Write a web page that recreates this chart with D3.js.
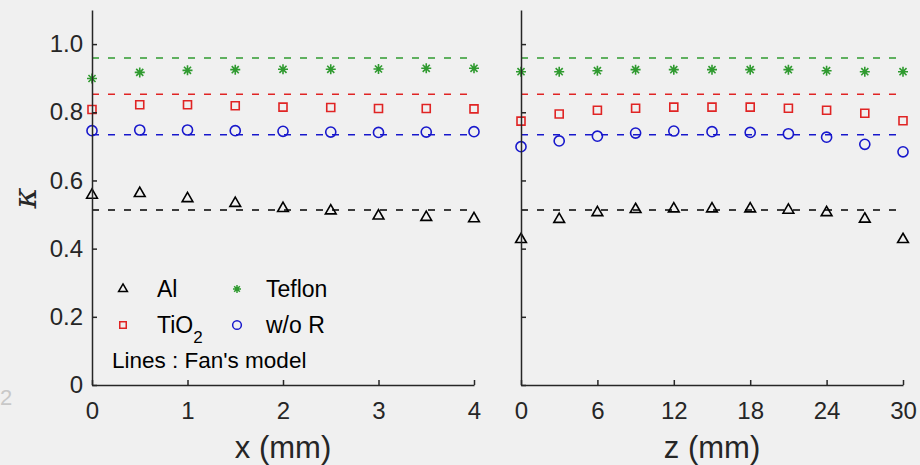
<!DOCTYPE html>
<html>
<head>
<meta charset="utf-8">
<script src="https://cdn.jsdelivr.net/npm/d3@7"></script>
<style>
  body { margin: 0; background: #f0f0f0; }
  text { font-family: "Liberation Sans", Arial, Helvetica, sans-serif; }
</style>
</head>
<body>
<script>
// positions (mm)
var xPos = [0, 0.5, 1, 1.5, 2, 2.5, 3, 3.5, 4];
var zPos = [0, 3, 6, 9, 12, 15, 18, 21, 24, 27, 30];

// kappa vs x
var alX     = [0.557, 0.562, 0.547, 0.533, 0.518, 0.511, 0.496, 0.492, 0.488];
var tio2X   = [0.808, 0.822, 0.822, 0.819, 0.815, 0.814, 0.811, 0.811, 0.810];
var teflonX = [0.899, 0.917, 0.923, 0.925, 0.926, 0.926, 0.927, 0.929, 0.929];
var worX    = [0.746, 0.748, 0.748, 0.746, 0.744, 0.742, 0.741, 0.742, 0.743];

// kappa vs z
var alZ     = [0.427, 0.486, 0.506, 0.515, 0.517, 0.517, 0.517, 0.513, 0.506, 0.487, 0.427];
var tio2Z   = [0.774, 0.795, 0.806, 0.812, 0.815, 0.815, 0.815, 0.812, 0.806, 0.797, 0.775];
var teflonZ = [0.919, 0.919, 0.922, 0.925, 0.925, 0.925, 0.925, 0.925, 0.922, 0.919, 0.919];
var worZ    = [0.699, 0.716, 0.730, 0.739, 0.745, 0.743, 0.741, 0.737, 0.727, 0.706, 0.684];

// Fan's model (constant lines)
var fanAl = 0.513, fanTiO2 = 0.853, fanTeflon = 0.959, fanWoR = 0.734;

var yTicks = [0, 0.2, 0.4, 0.6, 0.8, 1.0];
var yTickLabels = ["0", "0.2", "0.4", "0.6", "0.8", "1.0"];
var xTicks = [0, 1, 2, 3, 4];
var zTicks = [0, 6, 12, 18, 24, 30];

var W = 920, H = 465;
var axisCol = "#262626";
var green = "#2f9a2f", red = "#e02424", blue = "#1818cc", black = "#000000";

// MATLAB style 8-ray asterisk
var asterisk = {
  draw: function (ctx, size) {
    var r = Math.sqrt(size) / 2;
    for (var i = 0; i < 4; i++) {
      var a = i * Math.PI / 4;
      ctx.moveTo(-r * Math.cos(a), -r * Math.sin(a));
      ctx.lineTo(r * Math.cos(a), r * Math.sin(a));
    }
  }
};

var svg = d3.select("body").append("svg")
  .attr("width", W).attr("height", H)
  .style("background", "#f0f0f0");

var y = d3.scaleLinear().domain([0, 1.1]).range([385, 10]);

function panel(xScale, ticks, label, showYLabels, pos, al, tio2, teflon, wor) {
  var g = svg.append("g");

  // dashed model lines
  var x0 = xScale.domain()[0], x1 = xScale.domain()[1];
  [[fanTeflon, green], [fanTiO2, red], [fanWoR, blue], [fanAl, black]].forEach(function (d) {
    g.append("line")
      .attr("x1", xScale(x0)).attr("x2", xScale(x1))
      .attr("y1", y(d[0])).attr("y2", y(d[0]))
      .attr("stroke", d[1]).attr("stroke-width", 1.5)
      .attr("stroke-dasharray", "7,9");
  });

  var series = [
    { v: teflon, type: asterisk, size: 100, col: green, sw: 1.6 },
    { v: tio2, type: d3.symbolSquare, size: 64, col: red, sw: 1.6 },
    { v: wor, type: d3.symbolCircle, size: 80, col: blue, sw: 1.6 },
    { v: al, type: d3.symbolTriangle, size: 50, col: black, sw: 1.6 }
  ];
  series.forEach(function (s) {
    g.selectAll(null).data(s.v).enter().append("path")
      .attr("transform", function (d, i) { return "translate(" + xScale(pos[i]) + "," + y(d) + ")"; })
      .attr("d", d3.symbol().type(s.type).size(s.size))
      .attr("fill", "none").attr("stroke", s.col).attr("stroke-width", s.sw);
  });

  // axes
  var yAxis = d3.axisLeft(y).tickValues(yTicks).tickSizeInner(-5).tickSizeOuter(0).tickPadding(9)
    .tickFormat(function (d, i) { return showYLabels ? yTickLabels[i] : ""; });
  var gy = svg.append("g").attr("transform", "translate(" + xScale.range()[0] + ",0)").call(yAxis);

  var xAxis = d3.axisBottom(xScale).tickValues(ticks).tickSizeInner(-5).tickSizeOuter(0).tickPadding(17)
    .tickFormat(d3.format("d"));
  var gx = svg.append("g").attr("transform", "translate(0,385)").call(xAxis);

  [gx, gy].forEach(function (a) {
    a.select(".domain").attr("stroke", axisCol).attr("stroke-width", 1.5);
    a.selectAll(".tick line").attr("stroke", axisCol).attr("stroke-width", 1.5);
    a.selectAll(".tick text").attr("fill", axisCol).style("font-size", "24px")
      .style("font-family", "'Liberation Sans', Arial, sans-serif");
  });

  svg.append("text")
    .attr("x", (xScale.range()[0] + xScale.range()[1]) / 2).attr("y", 458)
    .attr("text-anchor", "middle").attr("fill", axisCol)
    .style("font-size", "31px").text(label);
}

var xScale = d3.scaleLinear().domain([0, 4]).range([92, 474]);
var zScale = d3.scaleLinear().domain([0, 30]).range([521, 903]);

panel(xScale, xTicks, "x (mm)", true, xPos, alX, tio2X, teflonX, worX);
panel(zScale, zTicks, "z (mm)", false, zPos, alZ, tio2Z, teflonZ, worZ);

// y label
svg.append("text")
  .attr("transform", "translate(36,198) rotate(-90)")
  .attr("text-anchor", "middle").attr("fill", axisCol)
  .style("font-size", "32px").style("font-style", "italic")
  .style("font-family", "'DejaVu Serif', serif")
  .text("κ");

// stray cropped label at the left edge
svg.append("text").attr("x", 0).attr("y", 405)
  .attr("fill", "#c8c8c8").style("font-size", "22px").text("2");

// legend
var legend = [
  { name: "Al", type: d3.symbolTriangle, size: 34, col: black, lx: 123, ly: 289, tx: 157 },
  { name: "Teflon", type: asterisk, size: 64, col: green, lx: 237, ly: 289, tx: 266 },
  { name: "TiO", sub: "2", type: d3.symbolSquare, size: 42, col: red, lx: 123, ly: 325, tx: 157 },
  { name: "w/o R", type: d3.symbolCircle, size: 60, col: blue, lx: 237, ly: 325, tx: 266 }
];
var lg = svg.append("g");
legend.forEach(function (d) {
  lg.append("path")
    .attr("transform", "translate(" + d.lx + "," + d.ly + ")")
    .attr("d", d3.symbol().type(d.type).size(d.size))
    .attr("fill", "none").attr("stroke", d.col).attr("stroke-width", 1.5);
  var t = lg.append("text").attr("x", d.tx).attr("y", d.ly + 8)
    .attr("fill", "#000").style("font-size", "23px").text(d.name);
  if (d.sub) {
    t.append("tspan").attr("dy", 10).style("font-size", "17px").text(d.sub);
  }
});
lg.append("text").attr("x", 112).attr("y", 368)
  .attr("fill", "#000").style("font-size", "22.5px").text("Lines : Fan's model");
</script>
</body>
</html>
